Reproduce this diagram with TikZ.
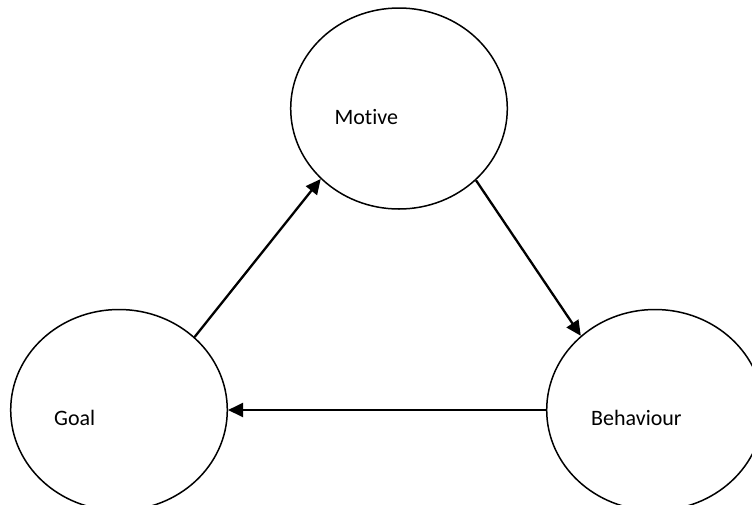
\documentclass[tikz,border=0pt]{standalone}
\usepackage{fontspec}
\setmainfont{Carlito}[Ligatures=NoCommon]
\usetikzlibrary{shapes.geometric,arrows.meta}
\begin{document}
\begin{tikzpicture}[x=1pt,y=-1pt,
  stage/.style={draw=black,line width=1.5pt,ellipse,inner sep=0pt,
    minimum width=216.6pt,minimum height=201pt},
  caption/.style={anchor=base west,inner sep=0pt,font=\fontsize{22}{26}\selectfont},
  flow/.style={draw=black,line width=2.3pt,-{Triangle[length=15pt,width=14pt]}}]
  \useasboundingbox (0,0) rectangle (752,504);
  % the three stages of the cycle
  \node[stage] (motive) at (399,108.5) {};
  \node[stage] (goal) at (119,410) {};
  \node[stage] (behaviour) at (655,410) {};
  % labels sit left of each circle's centre
  \node[caption] (motivetext) at (334.3,124) {Motive};
  \node[caption] (goaltext) at (54,425) {Goal};
  \node[caption] (behaviourtext) at (591,425) {Behaviour};
  % connectors
  \draw[flow] (goal.44) -- (motive.222.5);
  \draw[flow] (motive.317) -- (behaviour.135.7);
  \draw[flow] (behaviour.west) -- (goal.east);
\end{tikzpicture}
\end{document}
